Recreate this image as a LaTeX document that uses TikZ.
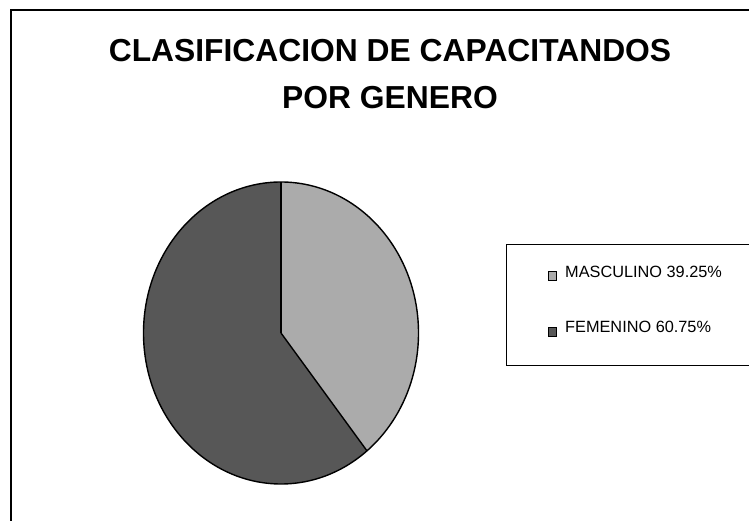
\documentclass[tikz,border=0pt]{standalone}
\usepackage{fontspec}
\setmainfont{Liberation Sans}
\usetikzlibrary{calc}
\begin{document}
\begin{tikzpicture}[x=1pt,y=1pt,
  frameline/.style={line width=1.2pt,black},
  mascfill/.style={fill=black!33},
  femfill/.style={fill=black!66},
  pieedge/.style={draw=black,line width=1.4pt},
  titletext/.style={font=\fontsize{31.8}{36}\selectfont\bfseries,anchor=base,inner sep=0pt},
  legtext/.style={font=\fontsize{16.3}{19}\selectfont,anchor=base west,inner sep=0pt},
  legmark/.style={draw=black,line width=0.6pt,minimum width=8.5pt,minimum height=9pt,inner sep=0pt,anchor=center}]
\useasboundingbox (0,0) rectangle (749,521);
\fill[white] (0,0) rectangle (749,521);
% outer frame (top and left only)
\draw[frameline] (11,0) -- (11,511) -- (749,511);
% title
\node[titletext] (t1) at (390,459.5) {CLASIFICACION DE CAPACITANDOS};
\node[titletext] (t2) at (390,412.5) {POR GENERO};
% pie
\coordinate (c) at (281,188);
\fill[femfill] (c) -- ++(0,151) arc[start angle=90,end angle=308.7,x radius=137.5,y radius=151] -- cycle;
\fill[mascfill] (c) -- ++(0,151) arc[start angle=90,end angle=-51.3,x radius=137.5,y radius=151] -- cycle;
\draw[pieedge] (c) ellipse[x radius=137.5,y radius=151];
\draw[line width=1.2pt] (c) -- ++(0,151);
\coordinate (e) at ($(c)+({137.5*cos(-51.3)},{151*sin(-51.3)})$);
\draw[line width=1.4pt] (c) -- (e);
% legend
\draw[line width=0.8pt] (749,277) -- (506,277) -- (506,156) -- (749,156);
\node[legmark,mascfill] (m1) at (552.5,245.5) {};
\node[legtext] (l1) at (565,243) {MASCULINO 39.25\%};
\node[legmark,femfill] (m2) at (552.5,189) {};
\node[legtext] (l2) at (565,188) {FEMENINO 60.75\%};
\end{tikzpicture}
\end{document}
